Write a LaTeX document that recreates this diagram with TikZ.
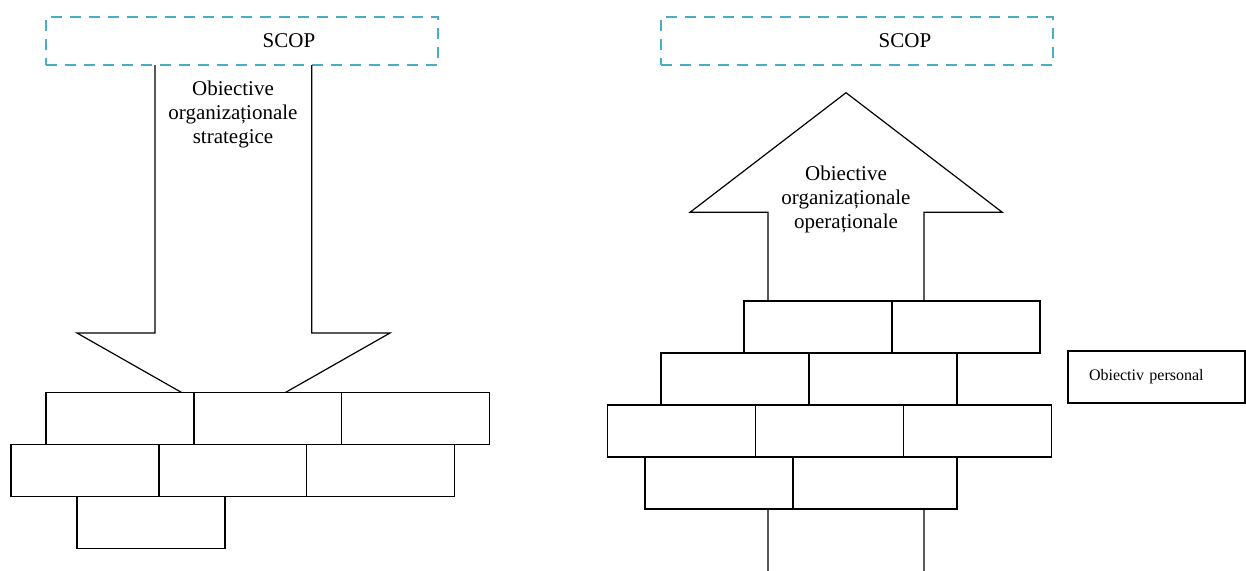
\documentclass[tikz,border=0pt]{standalone}
\usepackage{fontspec}
\setmainfont{Liberation Serif}
\definecolor{scopblue}{HTML}{4BACC6}

\begin{document}
\begin{tikzpicture}[
    x=0.5pt, y=-0.5pt,
    line width=0.6pt,
    every node/.style={font=\fontsize{10.5}{12}\selectfont, inner sep=0pt},
    scop/.style={draw=scopblue, line width=1pt, dash pattern=on 5.5pt off 4pt,
        minimum width=196pt, minimum height=24.3pt},
    brick/.style={draw, fill=white, minimum width=74pt, minimum height=26pt},
    widebrick/.style={brick, minimum width=82pt},
    arrowtext/.style={align=center},
    goal/.style={draw, font=\fontsize{8}{10}\selectfont, minimum height=26pt,
        text width=67.5pt, inner xsep=10.5pt, align=left}
  ]
  \useasboundingbox (0,0) rectangle (1246,570);

  % left: strategic goals coming down
  \node[scop] (scopL) at (242,41) {};
  \node (scopLtxt) at (289,41) {SCOP};
  \draw (155,65) -- (155,333) -- (77,333) -- (233.5,422) -- (390,333) -- (311.7,333) -- (311.7,65);
  \node[arrowtext] (strat) at (233,114) {Obiective\\organizaționale\\strategice};

  \node[brick] (l1a) at (120,418.3) {};
  \node[brick] (l1b) at (268,418.3) {};
  \node[brick] (l1c) at (415.5,418.3) {};
  \node[brick] (l2a) at (85,470.5) {};
  \node[brick] (l2b) at (233,470.5) {};
  \node[brick] (l2c) at (380.5,470.5) {};
  \node[brick] (l3a) at (151,522.7) {};

  % right: operational goals going up
  \node[scop] (scopR) at (857,41) {};
  \node (scopRtxt) at (905,41) {SCOP};
  \draw (768,572) -- (768,212.3) -- (690,212.3) -- (846,92.7) -- (1002.3,212.3) -- (924,212.3) -- (924,572);
  \node[arrowtext] (oper) at (846,199) {Obiective\\organizaționale\\operaționale};

  \node[brick] (r1a) at (818,327) {};
  \node[brick] (r1b) at (966,327) {};
  \node[brick] (r2a) at (735,379) {};
  \node[brick] (r2b) at (883,379) {};
  \node[brick] (r3a) at (681.5,431) {};
  \node[brick] (r3b) at (829.5,431) {};
  \node[brick] (r3c) at (977.5,431) {};
  \node[brick] (r4a) at (719,483) {};
  \node[widebrick] (r4b) at (875,483) {};

  \node[goal] (pers) at (1156.5,377) {Obiectiv personal};
\end{tikzpicture}
\end{document}
